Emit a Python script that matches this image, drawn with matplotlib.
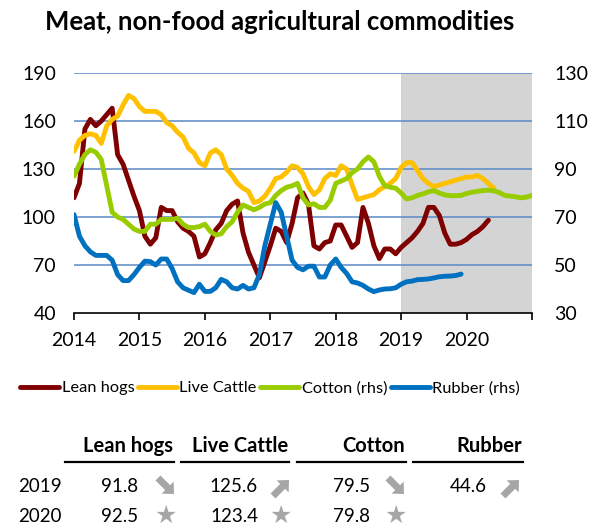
import matplotlib
matplotlib.use("Agg")
import matplotlib.pyplot as plt
from matplotlib.patches import FancyArrow
import numpy as np

plt.rcParams['font.family'] = ['Lato', 'DejaVu Sans']

# ---------------- data (monthly, starting Jan 2014) ----------------
lean_hogs = [112, 121, 155, 161, 157, 160, 164, 168, 139, 133, 123, 113,
             104, 88, 83, 87, 106, 104, 104, 97, 93, 91, 88, 75,
             77, 84, 92, 96, 104, 108, 110, 90, 78, 70, 62, 72,
             82, 93, 91, 84, 96, 112, 115, 108, 82, 80, 84, 85,
             95, 95, 88, 81, 84, 106, 96, 82, 74, 80, 80, 77,
             81, 84, 87, 91, 96, 106, 106, 101, 90, 83, 83, 84,
             86, 89, 91, 94, 98]
live_cattle = [141, 148, 151, 152, 151, 146, 157, 161, 163, 170, 176, 174,
               169, 166, 166, 166, 164, 159, 157, 153, 150, 143, 140, 134,
               132, 140, 142, 139, 130, 126, 121, 118, 116, 109, 110, 113,
               118, 124, 125, 128, 132, 131, 127, 119, 114, 117, 124, 127,
               126, 132, 130, 120, 111, 112, 113, 114, 117, 119, 121, 124,
               131, 134, 134, 129, 124, 121, 119, 120, 121, 122, 123, 124,
               125, 125, 126, 124, 121, 118]
cotton = [87, 92, 96, 98, 97, 94, 83, 72, 70, 69, 67, 65,
          64, 64, 67, 67, 69, 69, 69, 69.5, 67, 65.6, 65.6, 66,
          67, 64, 62.5, 63, 66, 68, 72, 75, 74, 73, 74, 75.4,
          76, 79, 81, 82.4, 83, 84, 78, 75, 75.5, 74, 74, 77,
          84, 85, 86, 88.5, 90, 93, 95, 93, 87, 83, 82.4, 82,
          80, 77.5, 78, 79, 79.6, 80.5, 81, 80, 79.2, 78.9, 78.9, 79,
          79.8, 80.3, 80.7, 81, 81.2, 80.9, 80.2, 79, 78.7, 78.4, 78, 78.3,
          79]
rubber = [71, 62, 58, 55.5, 54, 54, 54, 52, 46, 43.5, 43.5, 46,
          49, 51.6, 51.4, 50, 52.5, 52.5, 48.5, 43, 40.5, 39.5, 38.5, 42,
          39, 39, 40.5, 44, 43, 40.5, 40, 41.5, 40, 40.5, 46, 58,
          67, 76, 72, 62, 52, 49, 48, 49.5, 49.5, 45, 45, 50,
          52.5, 49, 46.5, 43, 42.5, 41.5, 40, 38.9, 39.6, 40, 40.1, 40.5,
          42, 43, 43.3, 43.9, 44, 44.2, 44.6, 45.1, 45.3, 45.4, 45.6, 46.2]

series_names = ["Lean hogs", "Live Cattle", "Cotton (rhs)", "Rubber (rhs)"]
series_colors = ["#7f0000", "#ffc000", "#99cc00", "#0070c0"]

years = [2014, 2015, 2016, 2017, 2018, 2019, 2020]
left_ticks = [40, 70, 100, 130, 160, 190]
right_ticks = [30, 50, 70, 90, 110, 130]

# table
table_cols = ["Lean hogs", "Live Cattle", "Cotton", "Rubber"]
table_rows = ["2019", "2020"]
vals_2019 = ["91.8", "125.6", "79.5", "44.6"]
vals_2020 = ["92.5", "123.4", "79.8", ""]
arrows_2019 = ["down", "up", "down", "up"]

def months(n):
    return 2014 + np.arange(n) / 12.0

W, H = 596, 529
fig = plt.figure(figsize=(W / 100, H / 100), dpi=100)
ax = fig.add_axes([74 / W, 1 - 313 / H, (532 - 74) / W, (313 - 73) / H])
ax2 = ax.twinx()

ax.axvspan(2019, 2021, color="#d4d4d4", zorder=0, lw=0)
for t in left_ticks[1:]:
    ax.axhline(t, color="#5b8ac6", lw=1.1, zorder=1)

lw = 3.5
l1, = ax.plot(months(len(lean_hogs)), lean_hogs, color=series_colors[0], lw=lw, zorder=3, solid_joinstyle='round', solid_capstyle='round')
l2, = ax.plot(months(len(live_cattle)), live_cattle, color=series_colors[1], lw=lw, zorder=3, solid_joinstyle='round', solid_capstyle='round')
l3, = ax2.plot(months(len(cotton)), cotton, color=series_colors[2], lw=lw, zorder=3, solid_joinstyle='round', solid_capstyle='round')
l4, = ax2.plot(months(len(rubber)), rubber, color=series_colors[3], lw=lw, zorder=3, solid_joinstyle='round', solid_capstyle='round')

ax.set_xlim(2014, 2021)
ax.set_ylim(40, 190)
ax2.set_ylim(30, 130)
ax.set_yticks(left_ticks)
ax2.set_yticks(right_ticks)
ax.set_xticks(years + [2021])
ax.set_xticklabels([str(y) for y in years] + [""])

fs = 14
for a in (ax, ax2):
    for s in ("top", "left", "right"):
        a.spines[s].set_visible(False)
    a.spines["bottom"].set_color("black")
    a.spines["bottom"].set_linewidth(1.2)
ax2.spines["bottom"].set_visible(False)
ax.tick_params(axis="y", length=0, pad=13, labelsize=fs)
ax2.tick_params(axis="y", length=0, pad=16, labelsize=fs)
ax.tick_params(axis="x", length=5, width=1.2, pad=9, labelsize=fs, direction="out")

fig.text(45 / W, 1 - 22 / H, "Meat, non-food agricultural commodities", fontsize=18.5,
         fontweight="bold", va="center", ha="left")

leg = fig.legend([l1, l2, l3, l4], series_names, loc="center", bbox_to_anchor=(270 / W, 1 - 388 / H),
                 ncol=4, frameon=False, fontsize=11.8, handlelength=2.4, handletextpad=0.15,
                 columnspacing=0.2, borderaxespad=0)

# overlay for the table
ov = fig.add_axes([0, 0, 1, 1])
ov.set_xlim(0, W)
ov.set_ylim(H, 0)
ov.axis("off")

hdr_right = [173, 288, 405, 522]
val_right = [138, 258, 370, 487]
icon_x = [166, 281, 396, 511]
line_left = [65, 181, 297, 413]
row_y = [487, 517]
for i, name in enumerate(table_cols):
    ov.text(hdr_right[i], 446, name, ha="right", va="center", fontsize=14.5, fontweight="bold")
    ov.plot([line_left[i], hdr_right[i] + 1], [462, 462], color="black", lw=1.6)
    ov.text(val_right[i], row_y[0], vals_2019[i], ha="right", va="center", fontsize=13.5)
    if vals_2020[i]:
        ov.text(val_right[i], row_y[1], vals_2020[i], ha="right", va="center", fontsize=13.5)
        ov.text(icon_x[i], row_y[1] - 1, "\u2605", ha="center", va="center", fontsize=18,
                color="#a6a6a6", family="DejaVu Sans")
    if arrows_2019[i] == "down":
        x0, y0, dx, dy = icon_x[i] - 8, row_y[0] - 9, 16, 16
    else:
        x0, y0, dx, dy = icon_x[i] - 8, row_y[0] + 9, 16, -16
    ov.add_patch(FancyArrow(x0, y0, dx, dy, width=7, head_width=17, head_length=9,
                            length_includes_head=True, color="#a6a6a6", lw=0))
for j, r in enumerate(table_rows):
    ov.text(18, row_y[j], r, ha="left", va="center", fontsize=13.5)

fig.savefig("out.png", dpi=100)
